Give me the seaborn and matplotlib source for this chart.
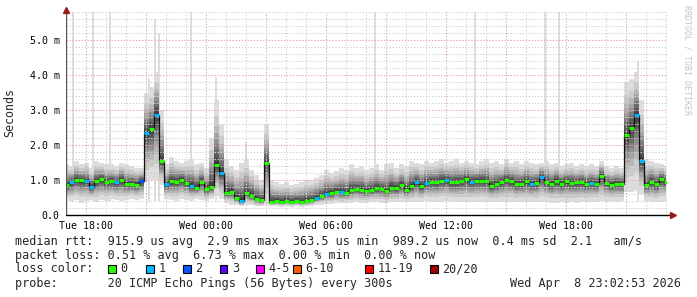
import numpy as np
import pandas as pd
import matplotlib
matplotlib.use("Agg")
import matplotlib.pyplot as plt
from matplotlib.patches import Rectangle
import seaborn as sns

# ---------------- data (hours after Tue 17:00, 15-minute samples) ----------------
median_ms = [0.85, 0.93, 1.00, 0.99, 0.97, 0.80, 0.97, 1.02, 0.95, 0.96,
             0.93, 1.00, 0.88, 0.90, 0.87, 0.96, 2.35, 2.45, 2.87, 1.55,
             0.88, 0.96, 0.95, 1.00, 0.92, 0.84, 0.78, 0.95, 0.74, 0.80,
             1.43, 1.20, 0.62, 0.66, 0.48, 0.40, 0.62, 0.55, 0.45, 0.42,
             1.48, 0.38, 0.39, 0.38, 0.40, 0.38, 0.39, 0.38, 0.40, 0.43,
             0.49, 0.53, 0.60, 0.62, 0.66, 0.65, 0.64, 0.72, 0.75, 0.72,
             0.68, 0.72, 0.76, 0.74, 0.68, 0.78, 0.76, 0.86, 0.72, 0.82,
             0.94, 0.82, 0.92, 0.95, 0.93, 0.98, 1.00, 0.93, 0.94, 0.96,
             1.02, 0.95, 0.98, 0.98, 0.97, 0.82, 0.88, 0.95, 1.00, 0.97,
             0.88, 0.90, 0.96, 0.88, 0.92, 1.08, 0.95, 0.88, 0.98, 0.90,
             0.96, 0.92, 0.93, 0.95, 0.90, 0.92, 0.90, 1.12, 0.92, 0.86,
             0.90, 0.88, 2.29, 2.50, 2.86, 1.55, 0.85, 0.95, 0.88, 1.02,
             0.95]
loss_count = [0, 1, 0, 0, 1, 1, 0, 0, 0, 0,
              1, 0, 0, 0, 0, 2, 1, 0, 1, 0,
              1, 0, 0, 0, 0, 1, 0, 0, 0, 0,
              0, 1, 0, 0, 0, 1, 0, 0, 0, 0,
              0, 0, 0, 0, 0, 0, 0, 0, 0, 0,
              1, 0, 1, 0, 0, 1, 0, 0, 0, 0,
              0, 0, 0, 0, 0, 0, 0, 0, 0, 0,
              1, 0, 1, 0, 0, 0, 1, 0, 0, 0,
              0, 1, 0, 0, 0, 0, 0, 0, 0, 0,
              0, 0, 0, 1, 0, 1, 0, 0, 0, 0,
              0, 0, 0, 0, 0, 1, 0, 0, 0, 0,
              0, 0, 0, 0, 1, 1, 0, 0, 0, 0,
              0]
smoke_lo = [0.45, 0.40, 0.42, 0.35, 0.40, 0.42, 0.38, 0.42, 0.40, 0.45,
            0.42, 0.40, 0.42, 0.45, 0.42, 0.45, 0.95, 1.00, 1.00, 0.85,
            0.45, 0.42, 0.40, 0.45, 0.42, 0.40, 0.45, 0.42, 0.40, 0.45,
            0.55, 0.45, 0.35, 0.30, 0.28, 0.25, 0.28, 0.28, 0.25, 0.25,
            0.30, 0.25, 0.25, 0.24, 0.25, 0.24, 0.25, 0.24, 0.25, 0.26,
            0.28, 0.30, 0.32, 0.32, 0.34, 0.33, 0.34, 0.35, 0.36, 0.35,
            0.34, 0.36, 0.36, 0.35, 0.34, 0.36, 0.36, 0.38, 0.36, 0.38,
            0.38, 0.36, 0.40, 0.38, 0.36, 0.38, 0.40, 0.38, 0.36, 0.38,
            0.36, 0.38, 0.36, 0.38, 0.36, 0.38, 0.36, 0.38, 0.36, 0.38,
            0.36, 0.38, 0.36, 0.38, 0.36, 0.38, 0.36, 0.35, 0.34, 0.36,
            0.34, 0.36, 0.35, 0.38, 0.36, 0.38, 0.38, 0.40, 0.38, 0.40,
            0.38, 0.40, 0.65, 0.65, 0.70, 0.60, 0.40, 0.38, 0.36, 0.38,
            0.40]
smoke_hi = [1.45, 1.40, 1.55, 1.45, 1.50, 1.35, 1.55, 1.50, 1.45, 1.45,
            1.40, 1.50, 1.45, 1.40, 1.35, 1.35, 3.50, 3.65, 4.10, 3.00,
            1.45, 1.65, 1.55, 1.50, 1.55, 1.60, 1.45, 1.50, 1.35, 2.20,
            3.30, 2.60, 1.60, 1.40, 1.30, 1.50, 1.60, 1.30, 1.15, 1.00,
            2.60, 1.00, 0.95, 0.90, 0.95, 0.85, 0.90, 0.95, 1.00, 1.00,
            1.05, 1.15, 1.30, 1.20, 1.25, 1.35, 1.30, 1.45, 1.35, 1.40,
            1.30, 1.35, 1.45, 1.30, 1.45, 1.50, 1.35, 1.45, 1.40, 1.55,
            1.50, 1.45, 1.55, 1.50, 1.55, 1.60, 1.50, 1.55, 1.60, 1.50,
            1.55, 1.50, 1.45, 1.55, 1.60, 1.50, 1.55, 1.45, 1.60, 1.50,
            1.55, 1.45, 1.55, 1.50, 1.45, 1.50, 1.55, 1.45, 1.50, 1.40,
            1.45, 1.50, 1.40, 1.45, 1.40, 1.45, 1.40, 1.55, 1.40, 1.35,
            1.40, 1.35, 3.80, 3.90, 4.10, 3.30, 1.60, 1.55, 1.50, 1.45,
            1.40]
# isolated single-ping outliers (hour, max ping ms)
outlier_hours = [0.35, 1.35, 2.2, 4.15, 4.45, 4.65, 6.25, 7.5, 9.0, 15.45, 20.45, 23.95, 24.65, 28.6]
outlier_ms = [6.0, 6.0, 6.0, 3.9, 5.6, 5.2, 6.0, 3.95, 2.1, 6.0, 6.0, 6.0, 6.0, 4.4]

x_tick_hours = [1, 7, 13, 19, 25]
x_tick_labels = ["Tue 18:00", "Wed 00:00", "Wed 06:00", "Wed 12:00", "Wed 18:00"]
y_ticks = [0, 1, 2, 3, 4, 5]
y_tick_labels = ["0.0", "1.0 m", "2.0 m", "3.0 m", "4.0 m", "5.0 m"]

loss_labels = ["0", "1", "2", "3", "4-5", "6-10", "11-19", "20/20"]
loss_colors = ["#26ff00", "#00b8ff", "#0059ff", "#5e00ff", "#ff00ff", "#ff5e00", "#ff0000", "#a10000"]

stats_line1 = "median rtt:  915.9 us avg  2.9 ms max  363.5 us min  989.2 us now  0.4 ms sd  2.1   am/s"
stats_line2 = "packet loss: 0.51 % avg  6.73 % max  0.00 % min  0.00 % now"
probe_line = "probe:       20 ICMP Echo Pings (56 Bytes) every 300s"
stamp_text = "Wed Apr  8 23:02:53 2026"

# ---------------- figure ----------------
sns.set_theme(style="white")
plt.rcParams['font.family'] = ['DejaVu Sans Mono', 'DejaVu Sans']
W, H = 697, 297
fig = plt.figure(figsize=(W / 100, H / 100), dpi=100)
fig.patch.set_facecolor("white")
ax = fig.add_axes([66 / W, 82 / H, 601 / W, 203 / H])
ax.set_facecolor("white")

t = np.arange(len(median_ms)) * 0.25
med = np.array(median_ms)
lo = np.array(smoke_lo)
hi = np.array(smoke_hi)
df = pd.DataFrame({"hour": t, "median": med})

# outlier columns
ax.bar(outlier_hours, np.array(outlier_ms) - 0.4, bottom=0.4, width=0.12,
       color="#dddddd", linewidth=0, zorder=0.9)

# smoke bands (outermost lightest)
ratios = [1.0, 0.75, 0.60, 0.49, 0.40, 0.32, 0.24, 0.17, 0.10, 0.04]
for k, r in enumerate(ratios):
    g = int(190 / 10 * (10 - (k + 1))) + 50
    col = "#%02x%02x%02x" % (g, g, g)
    ax.fill_between(t, med - (med - lo) * r, med + (hi - med) * r, step="mid",
                    color=col, linewidth=0, zorder=1 + k * 0.01)

# grid (drawn over smoke)
minor_col, major_col = "#d2d2d2", "#e4a8a8"
for h in range(1, 31):
    major = (h - 1) % 3 == 0
    ax.axvline(h, color=major_col if major else minor_col, lw=0.75,
               linestyle=(0, (1.3, 1.6)), zorder=2)
for v in np.arange(1, 30) * 0.2:
    major = abs(v - round(v)) < 1e-6
    ax.axhline(v, color=major_col if major else minor_col, lw=0.75,
               linestyle=(0, (1.3, 1.6)), zorder=2)

# median: black connectors + loss-coloured blocks
sns.lineplot(data=df, x="hour", y="median", drawstyle="steps-mid", color="#111111",
             lw=0.9, ax=ax, zorder=3, legend=False, estimator=None)
ax.hlines(med, t - 0.125, t + 0.125, colors=[loss_colors[c] for c in loss_count],
          lw=2.2, zorder=4)

ax.set_xlim(0, 30.05)
ax.set_ylim(0, 5.8)
for s in ax.spines.values():
    s.set_visible(False)
ax.axvline(0, color="#555555", lw=1.0, zorder=5, ymax=1.0)
ax.plot([0, 1.005], [0, 0], transform=ax.transAxes, color="black", lw=1.0,
        zorder=5, clip_on=False)
ax.plot([0], [1.012], transform=ax.transAxes, marker="^", color="#9b1b1b", ms=4.5,
        clip_on=False, zorder=6)
ax.plot([1.010], [0.0], transform=ax.transAxes, marker=">", color="#9b1b1b", ms=4.5,
        clip_on=False, zorder=6)

ax.set_xticks(x_tick_hours)
ax.set_xticklabels(x_tick_labels, fontsize=7.1, color="black")
ax.set_yticks(y_ticks)
ax.set_yticklabels(y_tick_labels, fontsize=7.1, color="black")
ax.tick_params(axis="x", length=0, pad=4.0)
ax.tick_params(axis="y", length=0, pad=4.6)
ax.set_xlabel("")
ax.set_ylabel("")
ax.grid(False)

def px(x, y):
    return x / W, 1 - y / H

fig.text(*px(10, 113), "Seconds", rotation=90, ha="center", va="center", fontsize=8.4)
fig.text(*px(687, 60), "RRDTOOL / TOBI OETIKER", rotation=270, ha="center", va="center",
         fontsize=6.0, color="#c4c4c4")

fs = 8.5
fig.text(*px(15, 241), stats_line1, ha="left", va="center", fontsize=fs)
fig.text(*px(15, 255), stats_line2, ha="left", va="center", fontsize=fs)
fig.text(*px(15, 269), "loss color:", ha="left", va="center", fontsize=fs)
fig.text(*px(15, 283), probe_line, ha="left", va="center", fontsize=fs)
fig.text(*px(681, 283), stamp_text, ha="right", va="center", fontsize=fs)

sq_x = [108, 146, 183, 219.5, 256, 293, 365, 430]
for xs, lab, col in zip(sq_x, loss_labels, loss_colors):
    fig.add_artist(Rectangle(px(xs, 273), 7.5 / W, 8 / H, transform=fig.transFigure,
                             facecolor=col, edgecolor="black", lw=0.8))
    fig.text(*px(xs + 12.5, 269), lab, ha="left", va="center", fontsize=fs)

fig.savefig("out.png", dpi=100, facecolor="white")
